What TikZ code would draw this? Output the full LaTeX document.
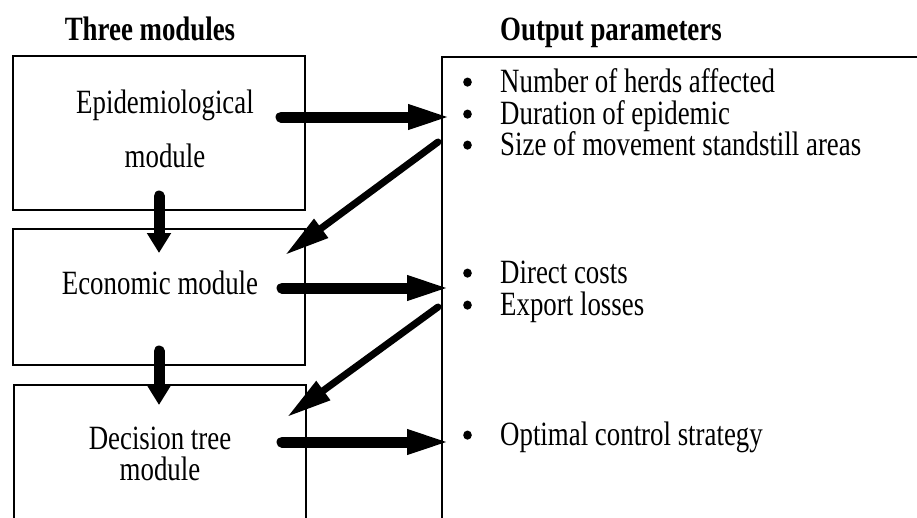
\documentclass[tikz,border=0pt]{standalone}
\usepackage{fontspec}
\setmainfont{Liberation Serif}[FakeStretch=0.79]
\usetikzlibrary{arrows.meta}
\newcommand\myblt{\makebox[37pt][l]{\raisebox{5.3pt}{\tikz\fill (0pt,0pt) ellipse [x radius=4.3pt, y radius=4.6pt];}}}
\begin{document}
\begin{tikzpicture}[x=1pt,y=-1pt,
  box/.style={draw, line width=2pt, rectangle, inner sep=0pt},
  txt/.style={font=\fontsize{34pt}{40pt}\selectfont, inner sep=0pt, anchor=base},
  ttl/.style={font=\fontsize{34pt}{40pt}\selectfont\bfseries, inner sep=0pt},
  itm/.style={txt, anchor=base west},
  harrow/.style={line width=11pt, line cap=round, -{Triangle[length=45pt,width=22pt]}},
  varrow/.style={line width=11pt, line cap=round, -{Triangle[length=20pt,width=23pt]}},
  darrow/.style={line width=7pt, line cap=round, -{Triangle[length=45pt,width=22pt]}},
]
\useasboundingbox (0,0) rectangle (917,517);
\clip (0,0) rectangle (917,517);

% titles
\node[ttl, anchor=base] (t1) at (150,40) {Three modules};
\node[ttl, anchor=base west] (t2) at (500,40) {Output parameters};

% boxes
\node[box, minimum width=292pt, minimum height=154pt] (box1) at (159,133) {};
\node[box, minimum width=292pt, minimum height=136pt] (box2) at (159,297) {};
\node[box, minimum width=292pt, minimum height=175pt] (box3) at (160,472.5) {};
\node[box, minimum width=518pt, minimum height=503pt] (out) at (701,308.5) {};

% module texts
\node[txt] (e1) at (165,113) {Epidemiological};
\node[txt] (e2) at (165,167) {module};
\node[txt] (ec) at (160,294) {Economic module};
\node[txt] (d1) at (160,449) {Decision tree};
\node[txt] (d2) at (160,480) {module};

% output items
\node[itm] (o1) at (463,92)  {\myblt Number of herds affected};
\node[itm] (o2) at (463,124) {\myblt Duration of epidemic};
\node[itm] (o3) at (463,155) {\myblt Size of movement standstill areas};
\node[itm] (o4) at (463,283) {\myblt Direct costs};
\node[itm] (o5) at (463,315) {\myblt Export losses};
\node[itm] (o6) at (463,445) {\myblt Optimal control strategy};

% arrow end points
\coordinate (h1s) at (281,117);
\coordinate (h1e) at (453,117);
\coordinate (h2s) at (282,288);
\coordinate (h2e) at (452,288);
\coordinate (h3s) at (282,442);
\coordinate (h3e) at (452,442);
\coordinate (v1s) at (159,196);
\coordinate (v1e) at (159,253);
\coordinate (v2s) at (159,351);
\coordinate (v2e) at (159,405);
\coordinate (g1s) at (438,142);
\coordinate (g1e) at (285,255);
\coordinate (g2s) at (438,307);
\coordinate (g2e) at (287,417);

% arrows
\draw[harrow] (h1s) -- (h1e);
\draw[harrow] (h2s) -- (h2e);
\draw[harrow] (h3s) -- (h3e);
\draw[varrow] (v1s) -- (v1e);
\draw[varrow] (v2s) -- (v2e);
\draw[darrow] (g1s) -- (g1e);
\draw[darrow] (g2s) -- (g2e);
\end{tikzpicture}
\end{document}
